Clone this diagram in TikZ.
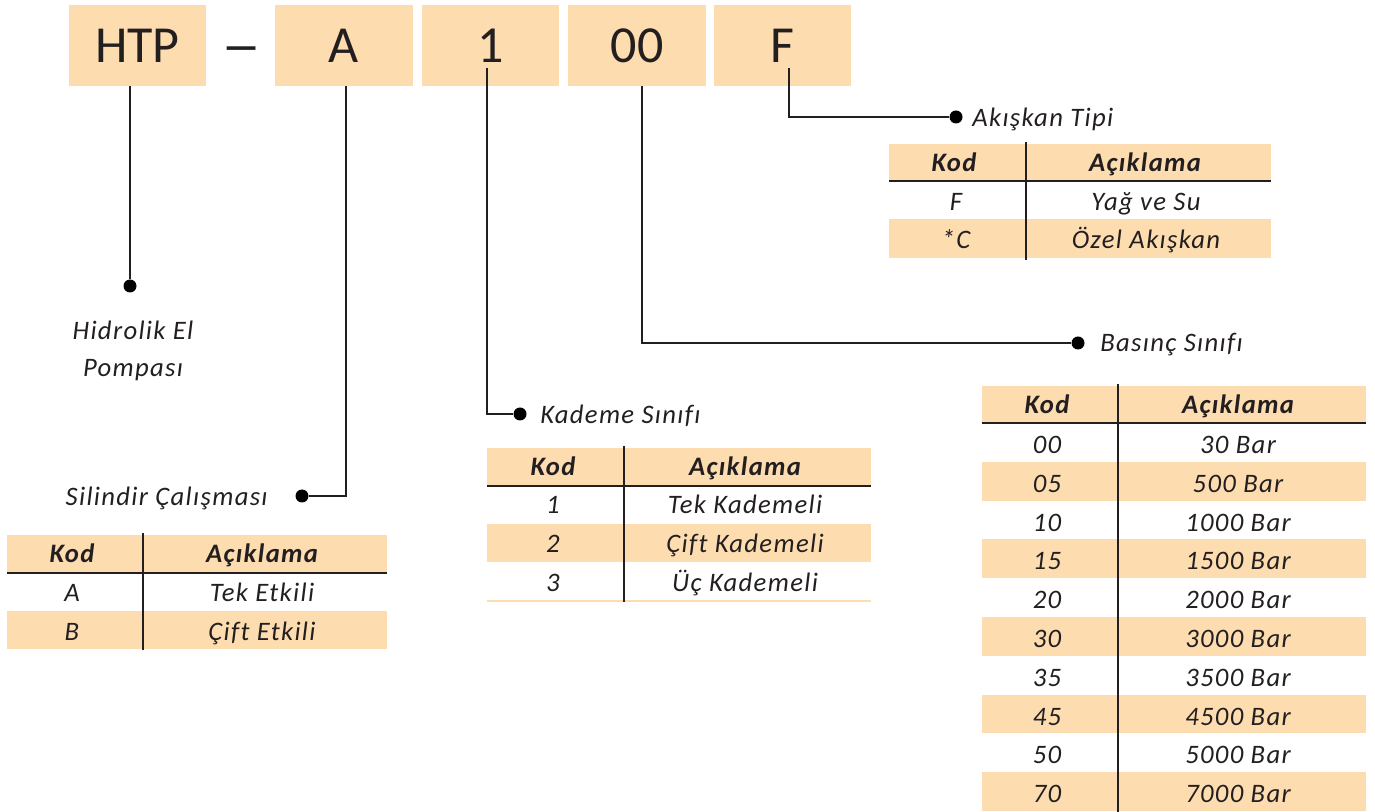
\documentclass[tikz,border=0pt]{standalone}
\usepackage{fontspec}
\usepackage{graphicx}
\setmainfont{Carlito}
\newfontfamily\lblfont[LetterSpace=5,Ligatures=NoCommon]{Carlito}
\definecolor{bandc}{HTML}{FDDDB0}
\definecolor{inkc}{HTML}{231F20}
\begin{document}
\begin{tikzpicture}[x=0.75pt,y=-0.75pt,
  codebox/.style={fill=bandc, minimum width=103pt, minimum height=60.75pt, inner sep=0pt,
    text depth=0pt, text height=25.5pt, font=\fontsize{39}{40}\selectfont, text=inkc},
  dashtxt/.style={inner sep=0pt, font=\fontsize{39}{40}\selectfont, text=inkc},
  conn/.style={draw=inkc, line width=0.95pt},
  dotn/.style={circle, fill=black, inner sep=0pt, minimum size=9.75pt},
  lbl/.style={font=\lblfont\itshape\fontsize{20}{24}\selectfont, text=inkc, inner sep=0pt},
  hd/.style={font=\lblfont\bfseries\itshape\fontsize{20}{24}\selectfont, text=inkc, inner sep=0pt, anchor=base},
  cell/.style={lbl, anchor=base},
  hrule/.style={draw=inkc, line width=2.2pt},
  vrule/.style={draw=inkc, line width=1.9pt},
  band/.style={fill=bandc}
]
\useasboundingbox (0,0) rectangle (1375,812);

% code boxes
\node[codebox] (htp) at (137.5,45.5) {HTP};
\node[dashtxt, anchor=base] (dash) at (242,65) {\scalebox{1.55}[1.1]{–}};
\node[codebox] (a) at (344,45.5) {A};
\node[codebox] (one) at (490.5,45.5) {1};
\node[codebox] (oo) at (637,45.5) {00};
\node[codebox] (f) at (782.5,45.5) {F};

% connector ends
\coordinate (ta) at (346,86);
\coordinate (t1) at (487,68);
\coordinate (too) at (642,86);
\coordinate (tf) at (789,68);

% dots
\node[dotn] (d1) at (130,286) {};
\node[dotn] (d2) at (302,496) {};
\node[dotn] (d3) at (520,414) {};
\node[dotn] (d4) at (1078,343) {};
\node[dotn] (d5) at (956,117) {};

% connectors
\draw[conn] (htp.south -| d1) -- (d1);
\draw[conn] (ta) |- (d2);
\draw[conn] (t1) |- (d3);
\draw[conn] (too) |- (d4);
\draw[conn] (tf) |- (d5);

% labels
\node[lbl, anchor=base] (l1a) at (133,340) {Hidrolik El};
\node[lbl, anchor=base] (l1b) at (133,377) {Pompası};
\node[lbl, anchor=base east] (l2) at (268,505.5) {Silindir Çalışması};
\node[lbl, anchor=base west] (l3) at (540,423.5) {Kademe Sınıfı};
\node[lbl, anchor=base west] (l4) at (1100,352) {Basınç Sınıfı};
\node[lbl, anchor=base west] (l5) at (972,126.5) {Akışkan Tipi};

% ---- Akışkan Tipi table
\fill[band] (889,144) rectangle (1271,181);
\fill[band] (889,219.5) rectangle (1271,258);
\draw[hrule] (889,181) -- (1271,181);
\draw[vrule] (1026,142) -- (1026,260);
\node[hd] (fk) at (954,171.5) {Kod};
\node[hd] (fa) at (1145,171.5) {Açıklama};
\node[cell] (fk1) at (956,210.5) {F};
\node[cell] (fa1) at (1146,210.5) {Yağ ve Su};
\node[cell] (fk2) at (956,249) {*C};
\node[cell] (fa2) at (1146,249) {Özel Akışkan};

% ---- Silindir Çalışması table
\fill[band] (7,535) rectangle (387,573);
\fill[band] (7,611) rectangle (387,649);
\draw[hrule] (7,573) -- (387,573);
\draw[vrule] (143,533) -- (143,650);
\node[hd] (sk) at (72,563) {Kod};
\node[hd] (sa) at (262,563) {Açıklama};
\node[cell] (sk1) at (72,602) {A};
\node[cell] (sa1) at (262,602) {Tek Etkili};
\node[cell] (sk2) at (72,640) {B};
\node[cell] (sa2) at (262,640) {Çift Etkili};

% ---- Kademe Sınıfı table
\fill[band] (487,448) rectangle (871,486);
\fill[band] (487,524) rectangle (871,562);
\fill[band] (487,600) rectangle (871,602);
\draw[hrule] (487,486) -- (871,486);
\draw[vrule] (624,446) -- (624,602);
\node[hd] (kk) at (553,476) {Kod};
\node[hd] (ka) at (745,476) {Açıklama};
\node[cell] (kk1) at (553,514) {1};
\node[cell] (ka1) at (745,514) {Tek Kademeli};
\node[cell] (kk2) at (553,553) {2};
\node[cell] (ka2) at (745,553) {Çift Kademeli};
\node[cell] (kk3) at (553,592) {3};
\node[cell] (ka3) at (745,592) {Üç Kademeli};

% ---- Basınç Sınıfı table
\fill[band] (982,386) rectangle (1366,423);
\foreach \k/\v [count=\i from 0] in {00/30,05/500,10/1000,15/1500,20/2000,30/3000,35/3500,45/4500,50/5000,70/7000}{
  \pgfmathsetmacro\rt{423+38.8*\i}
  \ifodd\i \fill[band] (982,\rt) rectangle (1366,\rt+38.8); \fi
  \node[cell] (pk\i) at (1047,\rt+30.5) {\k};
  \node[cell] (pa\i) at (1238,\rt+30.5) {\v\ Bar};
}
\draw[hrule] (982,423) -- (1366,423);
\draw[vrule] (1118,384) -- (1118,812);
\node[hd] (pk) at (1047,414) {Kod};
\node[hd] (pa) at (1238,414) {Açıklama};
\end{tikzpicture}
\end{document}
